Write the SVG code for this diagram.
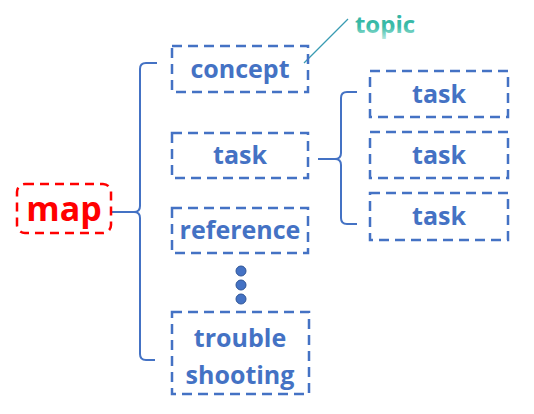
<svg xmlns="http://www.w3.org/2000/svg" width="534" height="414" viewBox="0 0 534 414">
<defs>
<linearGradient id="topicGrad" x1="0" y1="0" x2="0" y2="1">
<stop offset="0" stop-color="#2AAE9E"/>
<stop offset="0.6" stop-color="#3CBCA9"/>
<stop offset="1" stop-color="#BDEBE2"/>
</linearGradient>
<linearGradient id="leadGrad" x1="0" y1="0" x2="1" y2="1">
<stop offset="0" stop-color="#4472C4"/>
<stop offset="1" stop-color="#2EC4A0"/>
</linearGradient>
<style>
.box{fill:none;stroke:#4472C4;stroke-width:2.5;stroke-dasharray:10 6}
.lbl{font-family:"Open Sans","Liberation Sans",sans-serif;font-weight:bold;font-size:25px;fill:#4472C4;text-anchor:middle}
.br{fill:none;stroke:#4472C4;stroke-width:2}
.dot{fill:#4472C4;stroke:#2F5597;stroke-width:1}
</style>
</defs>
<rect width="534" height="414" fill="#fff"/>
<g id="connectors">
<path class="br" d="M111,212 H134"/>
<path class="br" d="M157,63 L146,63 Q140,63 140,69 V206 Q140,212 134,212 Q140,212 140,218 V354 Q140,360 146,360 L155,360"/>
<path class="br" d="M318,159 H336"/>
<path class="br" d="M357,92 L347,92 Q341,92 341,98 V153 Q341,159 335,159 Q341,159 341,165 V218 Q341,224 347,224 L357,224"/>
<line x1="348" y1="19" x2="304" y2="63" stroke="url(#leadGrad)" stroke-width="1.2"/>
</g>
<g id="map">
<rect x="17" y="184" width="94" height="49" rx="8" fill="none" stroke="#FF0000" stroke-width="2.5" stroke-dasharray="9 6"/>
<text x="64" y="221" font-family="'Open Sans','Liberation Sans',sans-serif" font-weight="bold" font-size="34" fill="#FF0000" text-anchor="middle">map</text>
</g>
<g id="concept">
<rect class="box" x="172" y="46" width="136" height="46"/>
<text class="lbl" x="240" y="78">concept</text>
</g>
<g id="topic">
<text x="385" y="33" font-family="'Open Sans','Liberation Sans',sans-serif" font-weight="bold" font-size="24" fill="url(#topicGrad)" text-anchor="middle">topic</text>
</g>
<g id="task">
<rect class="box" x="172" y="133" width="136" height="45"/>
<text class="lbl" x="240" y="164">task</text>
</g>
<g id="reference">
<rect class="box" x="172" y="208" width="136" height="45"/>
<text class="lbl" x="240" y="239">reference</text>
</g>
<g id="dots">
<circle class="dot" cx="241" cy="271" r="5"/>
<circle class="dot" cx="241" cy="285" r="5"/>
<circle class="dot" cx="241" cy="299" r="5"/>
</g>
<g id="troubleshooting">
<rect class="box" x="172" y="312" width="137" height="82"/>
<text class="lbl" x="240" y="347">trouble</text>
<text class="lbl" x="240" y="384">shooting</text>
</g>
<g id="task1">
<rect class="box" x="370" y="71" width="138" height="46"/>
<text class="lbl" x="439" y="103">task</text>
</g>
<g id="task2">
<rect class="box" x="370" y="132" width="138" height="46"/>
<text class="lbl" x="439" y="164">task</text>
</g>
<g id="task3">
<rect class="box" x="370" y="193" width="138" height="47"/>
<text class="lbl" x="439" y="225">task</text>
</g>
</svg>
